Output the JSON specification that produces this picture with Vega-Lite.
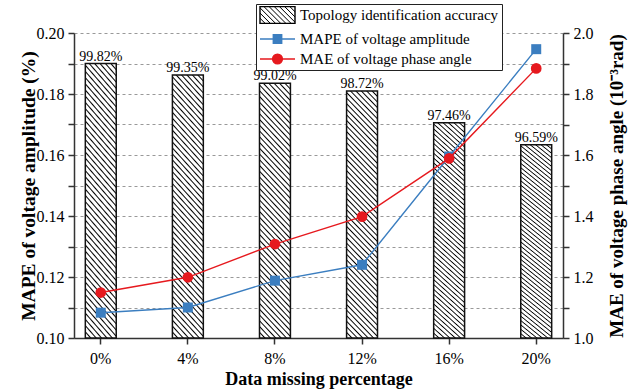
{
  "$schema": "https://vega.github.io/schema/vega-lite/v6.json",
  "width": 489,
  "height": 305,
  "autosize": {"type": "none"},
  "padding": {"left": 74, "top": 33, "right": 70, "bottom": 52},
  "background": "white",
  "config": {
    "font": "Liberation Serif",
    "view": {"stroke": null},
    "axis": {
      "labelFont": "Liberation Serif",
      "titleFont": "Liberation Serif",
      "labelFontSize": 16,
      "titleFontSize": 18,
      "titleFontWeight": "bold",
      "labelColor": "black",
      "titleColor": "black",
      "domainColor": "#333",
      "tickColor": "#333",
      "domainWidth": 1.5,
      "tickWidth": 1.5
    }
  },
  "data": {
    "values": [
      {"x": "0%", "bar": 0.19, "acc": "99.82%", "mape": 0.1083, "mae": 1.149},
      {"x": "4%", "bar": 0.1862, "acc": "99.35%", "mape": 0.11, "mae": 1.199},
      {"x": "8%", "bar": 0.1835, "acc": "99.02%", "mape": 0.1188, "mae": 1.308},
      {"x": "12%", "bar": 0.181, "acc": "98.72%", "mape": 0.124, "mae": 1.398},
      {"x": "16%", "bar": 0.1706, "acc": "97.46%", "mape": 0.1595, "mae": 1.589},
      {"x": "20%", "bar": 0.1634, "acc": "96.59%", "mape": 0.1947, "mae": 1.884}
    ]
  },
  "encoding": {
    "x": {
      "field": "x",
      "type": "ordinal",
      "sort": null,
      "scale": {"paddingInner": 0.645, "paddingOuter": 0.13},
      "axis": {
        "title": "Data missing percentage",
        "labelFont": "Liberation Serif",
        "titleFont": "Liberation Serif",
        "labelFontSize": 16,
        "labelAngle": 0,
        "tickSize": 6,
        "labelPadding": 6,
        "titlePadding": 4,
        "grid": false
      }
    }
  },
  "layer": [
    {
      "layer": [
        {
          "mark": {
            "type": "bar",
            "stroke": "#111",
            "strokeWidth": 1.5,
            "fill": {
              "gradient": "linear",
              "x1": 0, "y1": 1, "x2": 0.1435, "y2": -0.1106,
              "stops": [
                {"offset": 0, "color": "#000"}, {"offset": 0.005, "color": "#fff"},
                {"offset": 0.015, "color": "#fff"}, {"offset": 0.02, "color": "#000"}, {"offset": 0.025, "color": "#fff"},
                {"offset": 0.035, "color": "#fff"}, {"offset": 0.04, "color": "#000"}, {"offset": 0.045, "color": "#fff"},
                {"offset": 0.055, "color": "#fff"}, {"offset": 0.06, "color": "#000"}, {"offset": 0.065, "color": "#fff"},
                {"offset": 0.075, "color": "#fff"}, {"offset": 0.08, "color": "#000"}, {"offset": 0.085, "color": "#fff"},
                {"offset": 0.095, "color": "#fff"}, {"offset": 0.1, "color": "#000"}, {"offset": 0.105, "color": "#fff"},
                {"offset": 0.115, "color": "#fff"}, {"offset": 0.12, "color": "#000"}, {"offset": 0.125, "color": "#fff"},
                {"offset": 0.135, "color": "#fff"}, {"offset": 0.14, "color": "#000"}, {"offset": 0.145, "color": "#fff"},
                {"offset": 0.155, "color": "#fff"}, {"offset": 0.16, "color": "#000"}, {"offset": 0.165, "color": "#fff"},
                {"offset": 0.175, "color": "#fff"}, {"offset": 0.18, "color": "#000"}, {"offset": 0.185, "color": "#fff"},
                {"offset": 0.195, "color": "#fff"}, {"offset": 0.2, "color": "#000"}, {"offset": 0.205, "color": "#fff"},
                {"offset": 0.215, "color": "#fff"}, {"offset": 0.22, "color": "#000"}, {"offset": 0.225, "color": "#fff"},
                {"offset": 0.235, "color": "#fff"}, {"offset": 0.24, "color": "#000"}, {"offset": 0.245, "color": "#fff"},
                {"offset": 0.255, "color": "#fff"}, {"offset": 0.26, "color": "#000"}, {"offset": 0.265, "color": "#fff"},
                {"offset": 0.275, "color": "#fff"}, {"offset": 0.28, "color": "#000"}, {"offset": 0.285, "color": "#fff"},
                {"offset": 0.295, "color": "#fff"}, {"offset": 0.3, "color": "#000"}, {"offset": 0.305, "color": "#fff"},
                {"offset": 0.315, "color": "#fff"}, {"offset": 0.32, "color": "#000"}, {"offset": 0.325, "color": "#fff"},
                {"offset": 0.335, "color": "#fff"}, {"offset": 0.34, "color": "#000"}, {"offset": 0.345, "color": "#fff"},
                {"offset": 0.355, "color": "#fff"}, {"offset": 0.36, "color": "#000"}, {"offset": 0.365, "color": "#fff"},
                {"offset": 0.375, "color": "#fff"}, {"offset": 0.38, "color": "#000"}, {"offset": 0.385, "color": "#fff"},
                {"offset": 0.395, "color": "#fff"}, {"offset": 0.4, "color": "#000"}, {"offset": 0.405, "color": "#fff"},
                {"offset": 0.415, "color": "#fff"}, {"offset": 0.42, "color": "#000"}, {"offset": 0.425, "color": "#fff"},
                {"offset": 0.435, "color": "#fff"}, {"offset": 0.44, "color": "#000"}, {"offset": 0.445, "color": "#fff"},
                {"offset": 0.455, "color": "#fff"}, {"offset": 0.46, "color": "#000"}, {"offset": 0.465, "color": "#fff"},
                {"offset": 0.475, "color": "#fff"}, {"offset": 0.48, "color": "#000"}, {"offset": 0.485, "color": "#fff"},
                {"offset": 0.495, "color": "#fff"}, {"offset": 0.5, "color": "#000"}, {"offset": 0.505, "color": "#fff"},
                {"offset": 0.515, "color": "#fff"}, {"offset": 0.52, "color": "#000"}, {"offset": 0.525, "color": "#fff"},
                {"offset": 0.535, "color": "#fff"}, {"offset": 0.54, "color": "#000"}, {"offset": 0.545, "color": "#fff"},
                {"offset": 0.555, "color": "#fff"}, {"offset": 0.56, "color": "#000"}, {"offset": 0.565, "color": "#fff"},
                {"offset": 0.575, "color": "#fff"}, {"offset": 0.58, "color": "#000"}, {"offset": 0.585, "color": "#fff"},
                {"offset": 0.595, "color": "#fff"}, {"offset": 0.6, "color": "#000"}, {"offset": 0.605, "color": "#fff"},
                {"offset": 0.615, "color": "#fff"}, {"offset": 0.62, "color": "#000"}, {"offset": 0.625, "color": "#fff"},
                {"offset": 0.635, "color": "#fff"}, {"offset": 0.64, "color": "#000"}, {"offset": 0.645, "color": "#fff"},
                {"offset": 0.655, "color": "#fff"}, {"offset": 0.66, "color": "#000"}, {"offset": 0.665, "color": "#fff"},
                {"offset": 0.675, "color": "#fff"}, {"offset": 0.68, "color": "#000"}, {"offset": 0.685, "color": "#fff"},
                {"offset": 0.695, "color": "#fff"}, {"offset": 0.7, "color": "#000"}, {"offset": 0.705, "color": "#fff"},
                {"offset": 0.715, "color": "#fff"}, {"offset": 0.72, "color": "#000"}, {"offset": 0.725, "color": "#fff"},
                {"offset": 0.735, "color": "#fff"}, {"offset": 0.74, "color": "#000"}, {"offset": 0.745, "color": "#fff"},
                {"offset": 0.755, "color": "#fff"}, {"offset": 0.76, "color": "#000"}, {"offset": 0.765, "color": "#fff"},
                {"offset": 0.775, "color": "#fff"}, {"offset": 0.78, "color": "#000"}, {"offset": 0.785, "color": "#fff"},
                {"offset": 0.795, "color": "#fff"}, {"offset": 0.8, "color": "#000"}, {"offset": 0.805, "color": "#fff"},
                {"offset": 0.815, "color": "#fff"}, {"offset": 0.82, "color": "#000"}, {"offset": 0.825, "color": "#fff"},
                {"offset": 0.835, "color": "#fff"}, {"offset": 0.84, "color": "#000"}, {"offset": 0.845, "color": "#fff"},
                {"offset": 0.855, "color": "#fff"}, {"offset": 0.86, "color": "#000"}, {"offset": 0.865, "color": "#fff"},
                {"offset": 0.875, "color": "#fff"}, {"offset": 0.88, "color": "#000"}, {"offset": 0.885, "color": "#fff"},
                {"offset": 0.895, "color": "#fff"}, {"offset": 0.9, "color": "#000"}, {"offset": 0.905, "color": "#fff"},
                {"offset": 0.915, "color": "#fff"}, {"offset": 0.92, "color": "#000"}, {"offset": 0.925, "color": "#fff"},
                {"offset": 0.935, "color": "#fff"}, {"offset": 0.94, "color": "#000"}, {"offset": 0.945, "color": "#fff"},
                {"offset": 0.955, "color": "#fff"}, {"offset": 0.96, "color": "#000"}, {"offset": 0.965, "color": "#fff"},
                {"offset": 0.975, "color": "#fff"}, {"offset": 0.98, "color": "#000"}, {"offset": 0.985, "color": "#fff"},
                {"offset": 0.995, "color": "#fff"}, {"offset": 1, "color": "#000"}
              ]
            }
          },
          "encoding": {
            "y": {
              "field": "bar",
              "type": "quantitative",
              "scale": {"domain": [0.1, 0.2], "zero": false, "nice": false},
              "axis": {
                "title": "MAPE of voltage amplitude (%)",
                "orient": "left",
                "labelFont": "Liberation Serif",
                "titleFont": "Liberation Serif",
                "labelFontSize": 16,
                "titleFontSize": 19.5,
                "tickCount": 11,
                "format": ".2f",
                "labelOverlap": "parity",
                "labelSeparation": 20,
                "tickSize": 6,
                "labelPadding": 4,
                "titlePadding": -2,
                "grid": true,
                "gridDash": [3, 3],
                "gridColor": "#999",
                "gridWidth": 1
              }
            },
            "y2": {"datum": 0.1}
          }
        },
        {
          "mark": {"type": "text", "dy": -3, "fontSize": 14, "baseline": "alphabetic", "font": "Liberation Serif", "color": "black"},
          "encoding": {
            "y": {"field": "bar", "type": "quantitative"},
            "text": {"field": "acc"}
          }
        },
        {
          "mark": {"type": "line", "strokeWidth": 1.4},
          "encoding": {
            "y": {"field": "mape", "type": "quantitative"},
            "color": {
              "datum": "MAPE of voltage amplitude",
              "scale": {
                "domain": ["Topology identification accuracy", "MAPE of voltage amplitude", "MAE of voltage phase angle"],
                "range": ["#000000", "#3b7ec0", "#e6191e"]
              },
              "legend": {
                "title": null,
                "orient": "none",
                "legendX": 182,
                "legendY": -29,
                "symbolSize": 196,
                "labelOffset": 25,
                "labelFontSize": 15,
                "labelFont": "Liberation Serif",
                "labelColor": "black",
                "labelLimit": 400,
                "padding": 3,
                "rowPadding": 4,
                "strokeColor": "#222",
                "fillColor": "white",
                "encode": {
                  "symbols": {
                    "update": {
                      "shape": [
                        {"test": "datum.value === 'Topology identification accuracy'", "value": "M-1,-1.2H4V1.2H-1Z"},
                        {"test": "datum.value === 'MAPE of voltage amplitude'", "value": "M-1,0H4M0.9,-0.6H2.1V0.6H0.9Z"},
                        {"value": "M-1,0H4M2.2,0A0.7,0.7,0,1,1,0.8,0A0.7,0.7,0,1,1,2.2,0Z"}
                      ],
                      "fill": [
                        {"test": "datum.value === 'Topology identification accuracy'", "value": {
                          "gradient": "linear", "x1": 0, "y1": 1, "x2": 1.203, "y2": 0.423,
                          "stops": [
                            {"offset": 0, "color": "#000"}, {"offset": 0.02, "color": "#fff"},
                            {"offset": 0.08, "color": "#fff"}, {"offset": 0.1, "color": "#000"}, {"offset": 0.12, "color": "#fff"},
                            {"offset": 0.18, "color": "#fff"}, {"offset": 0.2, "color": "#000"}, {"offset": 0.22, "color": "#fff"},
                            {"offset": 0.28, "color": "#fff"}, {"offset": 0.3, "color": "#000"}, {"offset": 0.32, "color": "#fff"},
                            {"offset": 0.38, "color": "#fff"}, {"offset": 0.4, "color": "#000"}, {"offset": 0.42, "color": "#fff"},
                            {"offset": 0.48, "color": "#fff"}, {"offset": 0.5, "color": "#000"}, {"offset": 0.52, "color": "#fff"},
                            {"offset": 0.58, "color": "#fff"}, {"offset": 0.6, "color": "#000"}, {"offset": 0.62, "color": "#fff"},
                            {"offset": 0.68, "color": "#fff"}, {"offset": 0.7, "color": "#000"}, {"offset": 0.72, "color": "#fff"},
                            {"offset": 0.78, "color": "#fff"}, {"offset": 0.8, "color": "#000"}, {"offset": 0.82, "color": "#fff"},
                            {"offset": 0.88, "color": "#fff"}, {"offset": 0.9, "color": "#000"}, {"offset": 0.92, "color": "#fff"},
                            {"offset": 0.98, "color": "#fff"}, {"offset": 1, "color": "#000"}
                          ]
                        }},
                        {"test": "datum.value === 'MAPE of voltage amplitude'", "value": "#3b7ec0"},
                        {"value": "#e6191e"}
                      ],
                      "stroke": [
                        {"test": "datum.value === 'Topology identification accuracy'", "value": "#111"},
                        {"test": "datum.value === 'MAPE of voltage amplitude'", "value": "#3b7ec0"},
                        {"value": "#e6191e"}
                      ],
                      "strokeWidth": {"value": 1.4},
                      "opacity": {"value": 1},
                      "fillOpacity": {"value": 1},
                      "strokeOpacity": {"value": 1},
                      "strokeDash": {"value": []}
                    }
                  }
                }
              }
            }
          }
        },
        {
          "mark": {"type": "point", "shape": "square", "filled": true, "size": 100, "color": "#3b7ec0", "opacity": 1},
          "encoding": {
            "y": {"field": "mape", "type": "quantitative"}
          }
        }
      ]
    },
    {
      "layer": [
        {
          "mark": {"type": "line", "strokeWidth": 1.4},
          "encoding": {
            "y": {
              "field": "mae",
              "type": "quantitative",
              "scale": {"domain": [1, 2], "zero": false, "nice": false},
              "axis": {
                "title": "MAE of voltage phase angle (10⁻³rad)",
                "orient": "right",
                "labelFont": "Liberation Serif",
                "titleFont": "Liberation Serif",
                "labelFontSize": 16,
                "titleFontSize": 19,
                "tickCount": 11,
                "format": ".1f",
                "labelOverlap": "parity",
                "labelSeparation": 20,
                "tickSize": 6,
                "labelPadding": 4,
                "titlePadding": 14,
                "titleAngle": 270,
                "titleBaseline": "top",
                "grid": false
              }
            },
            "color": {"datum": "MAE of voltage phase angle"}
          }
        },
        {
          "mark": {"type": "point", "shape": "circle", "filled": true, "size": 115, "color": "#e6191e", "opacity": 1},
          "encoding": {
            "y": {"field": "mae", "type": "quantitative"}
          }
        }
      ]
    }
  ],
  "resolve": {"scale": {"y": "independent"}}
}
